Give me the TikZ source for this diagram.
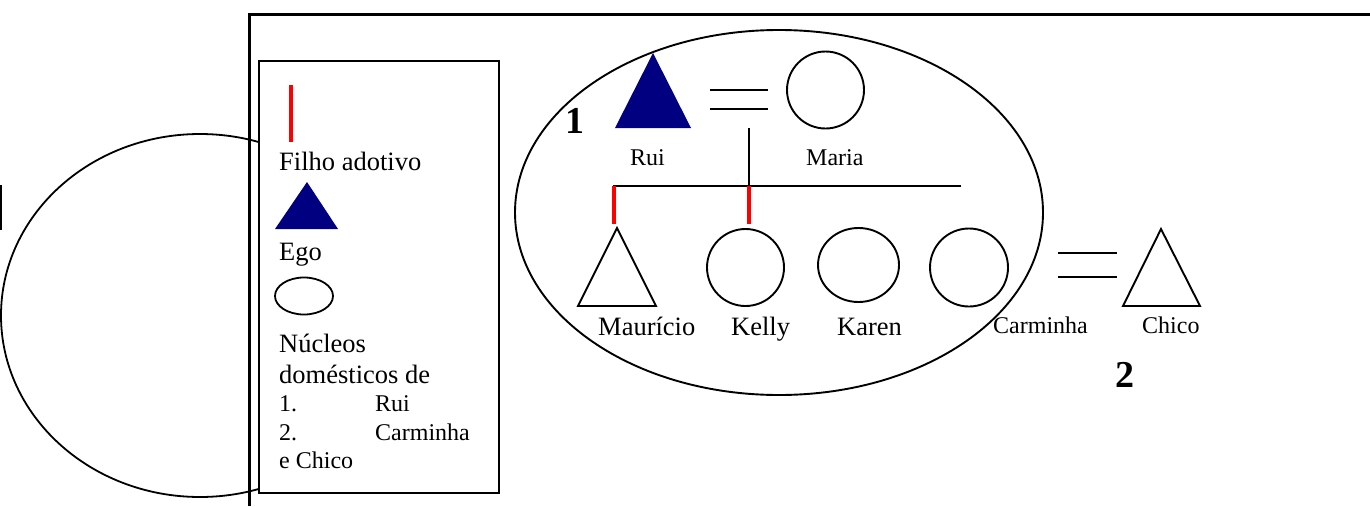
\documentclass[tikz,border=0pt]{standalone}
\usepackage{fontspec}
\setmainfont{Liberation Serif}
\definecolor{egoblue}{RGB}{0,0,128}
\begin{document}
\begin{tikzpicture}[x=1pt,y=-1pt]
\useasboundingbox (0,0) rectangle (1370,506);
\tikzset{
 bigtext/.style={font=\fontsize{26.5}{31}\selectfont, inner sep=0, anchor=base west},
 smalltext/.style={font=\fontsize{24}{28}\selectfont, inner sep=0, anchor=base west},
 numtext/.style={font=\fontsize{38}{40}\selectfont\bfseries, inner sep=0, anchor=base west},
 outline/.style={draw=black, line width=1.9pt},
 adopt/.style={draw=red, line width=4.5pt},
 kin/.style={draw=black, line width=1.9pt},
 person/.style={circle, draw=black, line width=1.9pt, inner sep=0, minimum size=#1},
}
% left partial ellipse and bar
\draw[line width=1.8pt] (200,315.5) ellipse [x radius=199, y radius=181.5];
\draw[line width=2.5pt] (1,185) -- (1,230);
% legend box
\node[draw=black, line width=1.6pt, fill=white, minimum width=240, minimum height=432, inner sep=0] (legend) at (379,277) {};
% frame
\draw[line width=3pt] (249,506) -- (249,14) -- (1370,14);
% legend content
\coordinate (la) at (291,85);
\coordinate (lb) at (291,142);
\draw[adopt] (la) -- (lb);
\node[bigtext] (tfilho) at (279,170) {Filho adotivo};
\fill[egoblue] (275,229) -- (307,182) -- (338,229) -- cycle;
\node[bigtext] (tego) at (279,260) {Ego};
\draw[line width=1.8pt] (304,296) ellipse [x radius=29, y radius=18.5];
\node[bigtext] (tnuc) at (279,352) {Núcleos};
\node[bigtext] (tdom) at (279,383) {domésticos de};
\node[smalltext] (t1) at (279,411) {1.};
\node[smalltext] (t1r) at (375,411) {Rui};
\node[smalltext] (t2) at (279,440) {2.};
\node[smalltext] (t2c) at (375,440) {Carminha};
\node[smalltext] (t3) at (279,468) {e Chico};
% household 1 ellipse
\draw[line width=1.9pt] (779,212.5) ellipse [x radius=264, y radius=182.5];
\node[numtext] (n1) at (565,133) {1};
% Rui and Maria
\fill[egoblue] (615,128) -- (653,53) -- (691,128) -- cycle;
\coordinate (rui) at (653,100);
\node[person=77] (maria) at (825.5,90) {};
\coordinate (eq1a) at (710,90);
\coordinate (eq1b) at (768,90);
\coordinate (eq1c) at (710,109);
\coordinate (eq1d) at (768,109);
\draw[kin] (eq1a) -- (eq1b);
\draw[kin] (eq1c) -- (eq1d);
\coordinate (marr) at (749,128);
\coordinate (sib) at (749,186);
\coordinate (sibl) at (613,186);
\coordinate (sibr) at (961,186);
\draw[kin] (marr) -- (sib);
\draw[kin] (sibl) -- (sibr);
\coordinate (mauTop) at (614,186);
\coordinate (mauBot) at (614,224);
\coordinate (kelTop) at (749,186);
\coordinate (kelBot) at (749,224);
\draw[adopt] (mauTop) -- (mauBot);
\draw[adopt] (kelTop) -- (kelBot);
\node[smalltext] (trui) at (630,165) {Rui};
\node[smalltext] (tmaria) at (806,165) {Maria};
% children
\draw[outline] (578,306) -- (617,228) -- (656,306) -- cycle;
\node[person=77] (kelly) at (745.5,267.5) {};
\draw[outline] (858.5,265) ellipse [x radius=40.5, y radius=37];
\node[person=78] (carminha) at (969,267.5) {};
\node[bigtext] (tmau) at (598,335) {Maurício};
\node[bigtext] (tkel) at (731,335) {Kelly};
\node[bigtext] (tkar) at (837,335) {Karen};
% Chico
\coordinate (eq2a) at (1058,253);
\coordinate (eq2b) at (1117,253);
\coordinate (eq2c) at (1058,277);
\coordinate (eq2d) at (1117,277);
\draw[kin] (eq2a) -- (eq2b);
\draw[kin] (eq2c) -- (eq2d);
\draw[outline] (1123,306) -- (1161,229) -- (1200,306) -- cycle;
\node[smalltext] (tcar) at (993,333) {Carminha};
\node[smalltext] (tchi) at (1142,333) {Chico};
\node[numtext] (n2) at (1115,387) {2};
\end{tikzpicture}
\end{document}
